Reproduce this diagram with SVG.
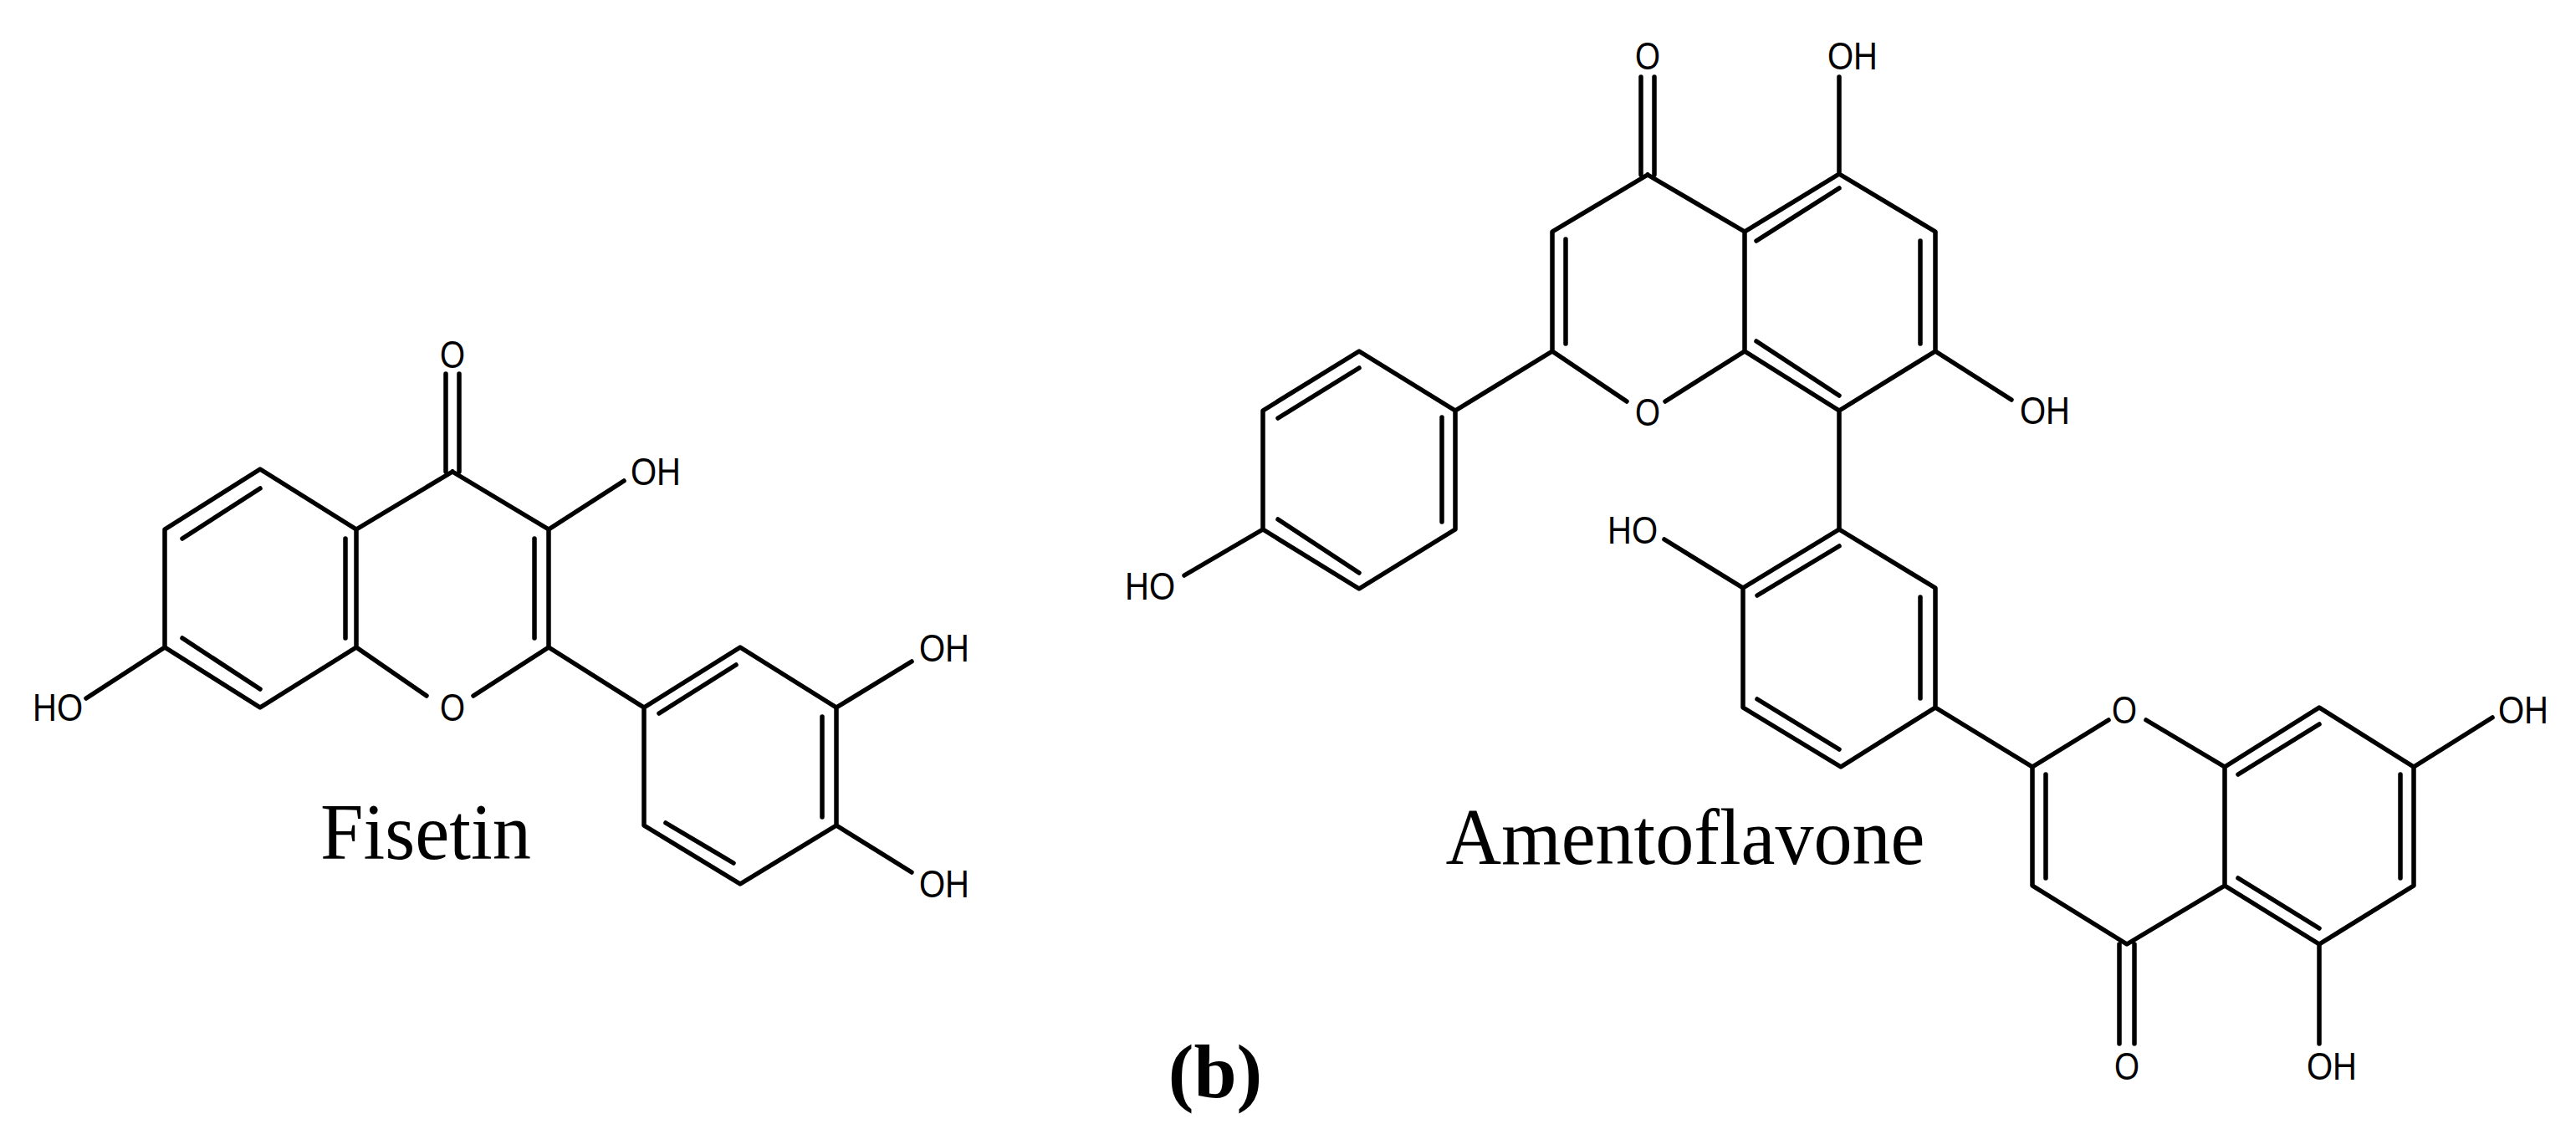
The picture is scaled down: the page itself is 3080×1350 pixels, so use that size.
<svg xmlns="http://www.w3.org/2000/svg" width="3080" height="1350" viewBox="0 0 3080 1350">
<style>
.b{stroke:#000;stroke-width:5.5;fill:none;stroke-linecap:round;stroke-linejoin:round}
.a{font-family:"Liberation Sans",Arial,sans-serif;font-size:46px;fill:#000;text-anchor:middle}
.n{font-family:"Liberation Serif","Times New Roman",serif;font-size:96px;fill:#000;text-anchor:middle}
</style>
<rect width="3080" height="1350" fill="#fff"/>
<g id="fisetin">
<path class="b" d="M541,564 L426,633 L311,561 L197,633 L197,774 L311,846 L426,774 L426,633 M541,564 L656,633 L656,774 L770,846 L885,774 L1000,846 L1000,987 L885,1057 L770,987 L770,846 M426,774 L510,832 M566,832 L656,774 M656,633 L746,575 M197,774 L103,835 M1000,846 L1090,791 M1000,987 L1090,1043 M533,447 L533,564 M549,447 L549,564"/>
<path class="b" d="M218,644 L311,584 M218,763 L311,824 M413,644 L413,763 M639,644 L639,763 M788,853 L880,795 M983,857 L983,977 M796,984 L877,1032"/>
<text class="a" x="541" y="440" textLength="30" lengthAdjust="spacingAndGlyphs">O</text>
<text class="a" x="541" y="862" textLength="30" lengthAdjust="spacingAndGlyphs">O</text>
<text class="a" x="784" y="580" textLength="60" lengthAdjust="spacingAndGlyphs">OH</text>
<text class="a" x="69" y="862" textLength="60" lengthAdjust="spacingAndGlyphs">HO</text>
<text class="a" x="1129" y="791" textLength="60" lengthAdjust="spacingAndGlyphs">OH</text>
<text class="a" x="1129" y="1073" textLength="60" lengthAdjust="spacingAndGlyphs">OH</text>
<text class="n" x="509" y="1027" textLength="252" lengthAdjust="spacingAndGlyphs">Fisetin</text>
</g>
<g id="amentoflavone">
<path class="b" d="M1970,209 L1856,277 L1856,420 L1945,480 M1991,480 L2086,420 L2086,277 L1970,209 M2086,277 L2199,208 L2314,277 L2314,420 L2199,491 L2086,420 M1962,92 L1962,209 M1978,92 L1978,209 M2199,208 L2199,92 M2314,420 L2405,478 M2199,491 L2199,633 M1856,420 L1740,491 L1625,420 L1510,491 L1510,633 L1625,704 L1740,633 L1740,491 M1510,633 L1416,688"/>
<path class="b" d="M1872,286 L1872,411 M2100,288 L2199,225 M2296,288 L2296,411 M2100,408 L2199,473 M1528,500 L1625,440 M1724,499 L1724,624 M1528,621 L1625,685"/>
<path class="b" d="M2199,633 L2084,703 L2084,846 L2201,917 L2314,846 L2314,703 L2199,633 M2084,703 L1990,645 M2314,846 L2430,917 L2430,1059 L2543,1129 L2660,1059 L2660,917 L2566,861 M2521,861 L2430,917 M2660,917 L2773,846 L2886,917 L2886,1059 L2773,1129 L2660,1059 M2886,917 L2980,858 M2773,1129 L2773,1248 M2534,1129 L2534,1248 M2552,1129 L2552,1248"/>
<path class="b" d="M2101,712 L2199,653 M2101,836 L2199,896 M2296,714 L2296,835 M2446,926 L2446,1050 M2676,926 L2773,866 M2870,926 L2870,1050 M2676,1050 L2773,1110"/>
<text class="a" x="1970" y="83" textLength="30" lengthAdjust="spacingAndGlyphs">O</text>
<text class="a" x="2215" y="83" textLength="60" lengthAdjust="spacingAndGlyphs">OH</text>
<text class="a" x="1970" y="509" textLength="30" lengthAdjust="spacingAndGlyphs">O</text>
<text class="a" x="2445" y="507" textLength="60" lengthAdjust="spacingAndGlyphs">OH</text>
<text class="a" x="1375" y="717" textLength="60" lengthAdjust="spacingAndGlyphs">HO</text>
<text class="a" x="1952" y="650" textLength="60" lengthAdjust="spacingAndGlyphs">HO</text>
<text class="a" x="2540" y="865" textLength="30" lengthAdjust="spacingAndGlyphs">O</text>
<text class="a" x="3017" y="865" textLength="60" lengthAdjust="spacingAndGlyphs">OH</text>
<text class="a" x="2543" y="1291" textLength="30" lengthAdjust="spacingAndGlyphs">O</text>
<text class="a" x="2788" y="1291" textLength="60" lengthAdjust="spacingAndGlyphs">OH</text>
<text class="n" x="2015" y="1033" textLength="573" lengthAdjust="spacingAndGlyphs">Amentoflavone</text>
</g>
<text x="1453" y="1312" font-family="'Liberation Serif','Times New Roman',serif" font-weight="bold" font-size="92" text-anchor="middle">(b)</text>
</svg>
